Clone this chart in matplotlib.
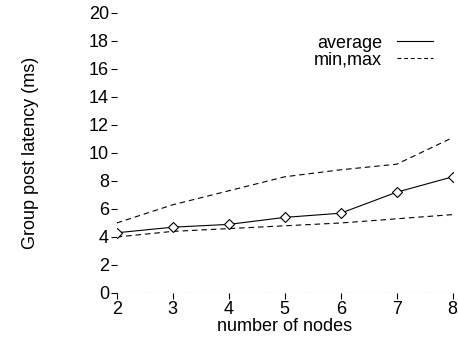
import matplotlib
matplotlib.use('Agg')
import matplotlib.pyplot as plt
from matplotlib.lines import Line2D

plt.rcParams['font.family'] = ['Liberation Sans', 'DejaVu Sans']

nodes = [2, 3, 4, 5, 6, 7, 8]
lat_avg = [4.3, 4.7, 4.9, 5.4, 5.7, 7.2, 8.3]
lat_max = [5.0, 6.3, 7.3, 8.3, 8.8, 9.2, 11.1]
lat_min = [4.0, 4.4, 4.6, 4.8, 5.0, 5.3, 5.6]
yticks = list(range(0, 21, 2))

fs = 13
fig = plt.figure(figsize=(4.58, 3.43), dpi=100)
ax = fig.add_axes([0.2548, 0.1458, 0.7336, 0.8163])

dash = (0, (5, 3.5))
ax.plot(nodes, lat_max, color='black', lw=0.8, linestyle=dash)
ax.plot(nodes, lat_min, color='black', lw=0.8, linestyle=dash)
ax.plot(nodes, lat_avg, color='black', lw=0.8, marker='D', markersize=5.5,
        markerfacecolor='white', markeredgecolor='black', markeredgewidth=0.8)

# dotted zero line along the bottom
ax.axhline(0, color='black', lw=0.8, linestyle=(0, (1, 2)))

ax.set_xlim(2, 8)
ax.set_ylim(0, 20)
ax.set_xticks(nodes)
ax.set_yticks(yticks)
for s in ax.spines.values():
    s.set_visible(False)
ax.tick_params(axis='both', direction='out', length=4.5, width=0.8, labelsize=fs, pad=1)
ax.set_xlabel('number of nodes', fontsize=fs, labelpad=0)
ax.set_ylabel('Group post latency (ms)', fontsize=fs, labelpad=36)
ax.patch.set_visible(False)

handles = [Line2D([], [], color='black', lw=0.8),
           Line2D([], [], color='black', lw=0.8, linestyle=(0, (3.5, 2.5)))]
ax.legend(handles, ['average', 'min,max'], loc='upper right', frameon=False,
          markerfirst=False, fontsize=fs, handlelength=2.0, handletextpad=0.8,
          labelspacing=0.0, bbox_to_anchor=(0.962, 0.949), borderaxespad=0)

fig.savefig('out.png', dpi=100)
